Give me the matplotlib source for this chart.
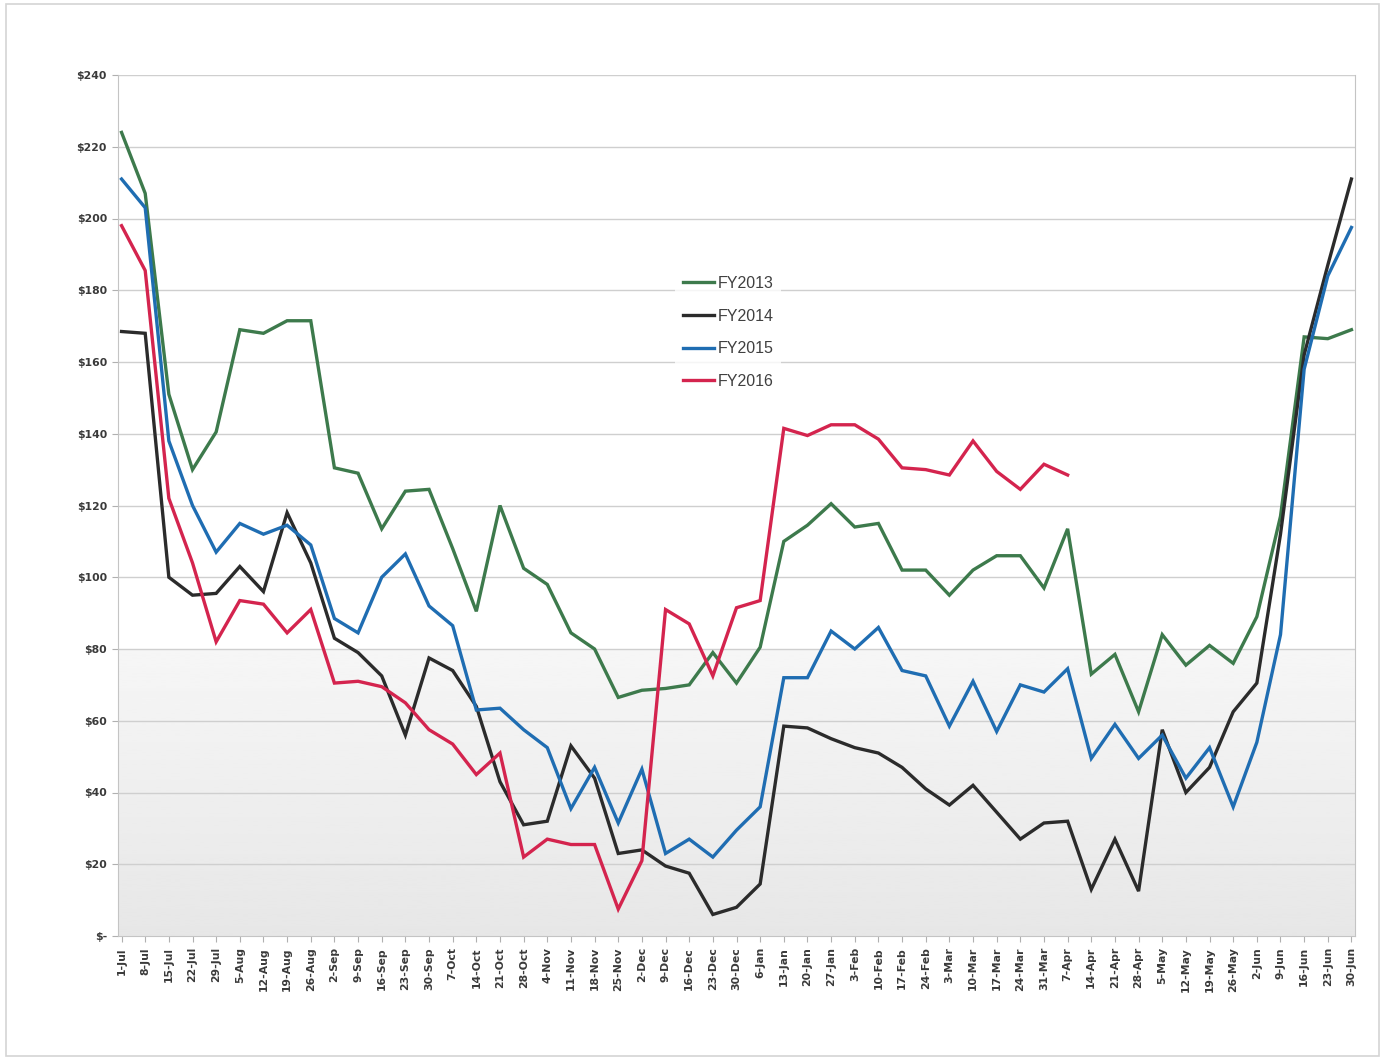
"""
Weekly price comparison, FY2013 - FY2016 (line chart recreation).
"""

import numpy as np
import matplotlib

matplotlib.use("Agg")
import matplotlib.pyplot as plt
from matplotlib.ticker import FuncFormatter
from matplotlib.patches import Rectangle

# week-ending labels, 1-Jul .. 30-Jun
weeks = ["1-Jul", "8-Jul", "15-Jul", "22-Jul", "29-Jul", "5-Aug", "12-Aug", "19-Aug", "26-Aug",
         "2-Sep", "9-Sep", "16-Sep", "23-Sep", "30-Sep", "7-Oct", "14-Oct", "21-Oct", "28-Oct",
         "4-Nov", "11-Nov", "18-Nov", "25-Nov", "2-Dec", "9-Dec", "16-Dec", "23-Dec", "30-Dec",
         "6-Jan", "13-Jan", "20-Jan", "27-Jan", "3-Feb", "10-Feb", "17-Feb", "24-Feb", "3-Mar",
         "10-Mar", "17-Mar", "24-Mar", "31-Mar", "7-Apr", "14-Apr", "21-Apr", "28-Apr", "5-May",
         "12-May", "19-May", "26-May", "2-Jun", "9-Jun", "16-Jun", "23-Jun", "30-Jun"]

fy2013 = [224, 207, 151, 130, 140.5, 169, 168, 171.5, 171.5, 130.5, 129, 113.5, 124, 124.5,
          108, 90.5, 120, 102.5, 98, 84.5, 80, 66.5, 68.5, 69, 70, 79, 70.5, 80.5, 110, 114.5,
          120.5, 114, 115, 102, 102, 95, 102, 106, 106, 97, 113.5, 73, 78.5, 62.5, 84, 75.5,
          81, 76, 89, 117, 167, 166.5, 169]
fy2014 = [168.5, 168, 100, 95, 95.5, 103, 96, 118, 104, 83, 79, 72.5, 56, 77.5, 74, 64, 43,
          31, 32, 53, 44, 23, 24, 19.5, 17.5, 6, 8, 14.5, 58.5, 58, 55, 52.5, 51, 47, 41, 36.5,
          42, 34.5, 27, 31.5, 32, 13, 27, 12.5, 57.5, 40, 47, 62.5, 70.5, 112, 162, 187, 211]
fy2015 = [211, 203, 138, 120, 107, 115, 112, 114.5, 109, 88.5, 84.5, 100, 106.5, 92, 86.5,
          63, 63.5, 57.5, 52.5, 35.5, 47, 31.5, 46.5, 23, 27, 22, 29.5, 36, 72, 72, 85, 80, 86,
          74, 72.5, 58.5, 71, 57, 70, 68, 74.5, 49.5, 59, 49.5, 56, 44, 52.5, 36, 54, 84, 158,
          184, 197.5]
# FY2016 only runs to 7-Apr
fy2016 = [198, 185.5, 122, 104, 82, 93.5, 92.5, 84.5, 91, 70.5, 71, 69.5, 65, 57.5, 53.5, 45,
          51, 22, 27, 25.5, 25.5, 7.5, 21, 91, 87, 72.5, 91.5, 93.5, 141.5, 139.5, 142.5,
          142.5, 138.5, 130.5, 130, 128.5, 138, 129.5, 124.5, 131.5, 128.5] + [None] * 12

series_names = ["FY2013", "FY2014", "FY2015", "FY2016"]
series_colors = ["#3d7a4c", "#2b2b2b", "#1f6db2", "#d4244e"]
y_ticks = [0, 20, 40, 60, 80, 100, 120, 140, 160, 180, 200, 220, 240]


def money(v, _pos):
    return "$-" if v == 0 else f"${v:.0f}"


fig = plt.figure(figsize=(13.82, 10.62), dpi=100)
fig.patches.append(Rectangle((0.004, 0.006), 0.994, 0.99, transform=fig.transFigure,
                             fill=False, edgecolor="#d4d4d4", linewidth=1.2))
ax = fig.add_axes([118 / 1382, 126 / 1062, 1237 / 1382, 861 / 1062])

x = np.arange(len(weeks))
ax.set_xlim(-0.15, len(weeks) - 1 + 0.15)
ax.set_ylim(0, 240)

# faint grey shading in lower part (scan look)
grad = np.linspace(0.905, 0.965, 100).reshape(-1, 1)
ax.imshow(grad, cmap="gray", vmin=0, vmax=1, aspect="auto", origin="lower",
          extent=(ax.get_xlim()[0], ax.get_xlim()[1], 0, 80), zorder=0)

for yv in y_ticks[1:]:
    ax.axhline(yv, color="#cfcfcf", linewidth=1.0, zorder=1)

all_series = [fy2013, fy2014, fy2015, fy2016]
for vals, name, col in zip(all_series, series_names, series_colors):
    arr = np.array([np.nan if v is None else v for v in vals], dtype=float)
    ax.plot(x, arr, color=col, linewidth=2.4, label=name, zorder=3,
            solid_joinstyle="miter")

ax.set_yticks(y_ticks)
ax.yaxis.set_major_formatter(FuncFormatter(money))
ax.set_xticks(x)
ax.set_xticklabels(weeks, rotation=90)

tick_font = dict(family=["Liberation Sans Narrow", "DejaVu Sans"], size=7.8, weight="bold")
for lab in ax.get_xticklabels() + ax.get_yticklabels():
    lab.set_fontfamily(tick_font["family"])
    lab.set_fontsize(tick_font["size"])
    lab.set_fontweight(tick_font["weight"])
    lab.set_color("#3a3a3a")

ax.tick_params(axis="both", length=4, color="#b0b0b0", pad=4)
for side in ["left", "bottom", "right"]:
    ax.spines[side].set_color("#c4c4c4")
ax.spines["top"].set_visible(False)

leg = ax.legend(loc="upper left", bbox_to_anchor=(667 / 1382, 1 - 260 / 1062),
                bbox_transform=fig.transFigure, frameon=True, fancybox=False,
                handlelength=1.95, handletextpad=0.2, labelspacing=1.1, borderpad=0.5,
                prop={"family": ["Liberation Sans", "DejaVu Sans"], "size": 11.5})
leg.get_frame().set_facecolor("white")
leg.get_frame().set_edgecolor("none")
for t in leg.get_texts():
    t.set_color("#404040")

fig.savefig("out.png", dpi=100)
